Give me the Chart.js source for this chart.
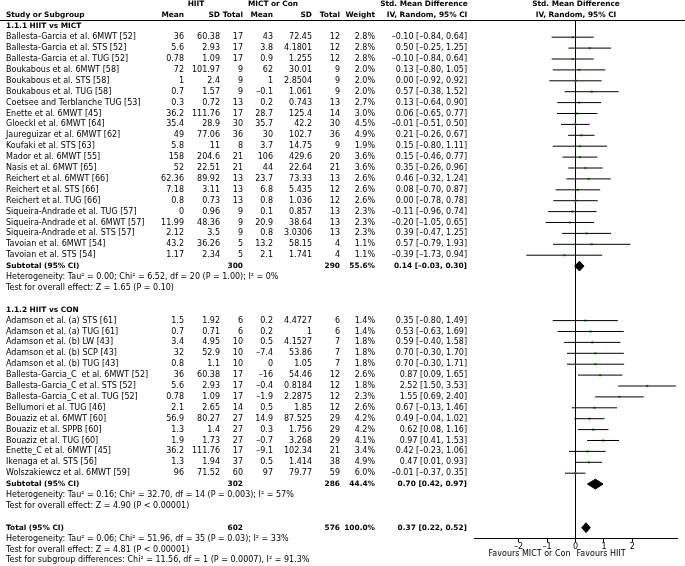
<!DOCTYPE html>
<html>
<head>
<meta charset="utf-8">
<script src="https://cdn.jsdelivr.net/npm/chart.js@4.4.1/dist/chart.umd.min.js"></script>
<style>
    body { margin: 0; background: #fff; }
    canvas { display: block; }
</style>
</head>
<body>
<canvas id="forestChart" width="685" height="566"></canvas>
<script>
// Estudios (grupo 1: 21, grupo 2: 15)
const groupTitles = ['1.1.1 HIIT vs MICT', '1.1.2 HIIT vs CON'];
const groupSizes = [21, 15];
const studies = [
    'Ballesta-Garcia et al. 6MWT [52]', 'Ballesta-Garcia et al. STS [52]', 'Ballesta-Garcia et al. TUG [52]',
    'Boukabous et al. 6MWT [58]', 'Boukabous et al. STS [58]', 'Boukabous et al. TUG [58]',
    'Coetsee and Terblanche TUG [53]', 'Enette et al. 6MWT [45]', 'Gloeckl et al. 6MWT [64]',
    'Jaureguizar et al. 6MWT [62]', 'Koufaki et al. STS [63]', 'Mador et al. 6MWT [55]',
    'Nasis et al. 6MWT [65]', 'Reichert et al. 6MWT [66]', 'Reichert et al. STS [66]',
    'Reichert et al. TUG [66]', 'Siqueira-Andrade et al. TUG [57]', 'Siqueira-Andrade et al. 6MWT [57]',
    'Siqueira-Andrade et al. STS [57]', 'Tavoian et al. 6MWT [54]', 'Tavoian et al. STS [54]',
    'Adamson et al. (a) STS [61]', 'Adamson et al. (a) TUG [61]', 'Adamson et al. (b) LW [43]',
    'Adamson et al. (b) SCP [43]', 'Adamson et al. (b) TUG [43]', 'Ballesta-Garcia_C  et al. 6MWT [52]',
    'Ballesta-Garcia_C et al. STS [52]', 'Ballesta-Garcia_C et al. TUG [52]', 'Bellumori et al. TUG [46]',
    'Bouaziz et al. 6MWT [60]', 'Bouaziz et al. SPPB [60]', 'Bouaziz et al. TUG [60]',
    'Enette_C et al. 6MWT [45]', 'Ikenaga et al. STS [56]', 'Wolszakiewcz et al. 6MWT [59]'
];
const hiitMean = [36, 5.6, 0.78, 72, 1, 0.7, 0.3, 36.2, 35.4, 49, 5.8, 158, 52, 62.36, 7.18, 0.8, 0, 11.99, 2.12, 43.2, 1.17,
    1.5, 0.7, 3.4, 32, 0.8, 36, 5.6, 0.78, 2.1, 56.9, 1.3, 1.9, 36.2, 1.3, 96];
const hiitSd = [60.38, 2.93, 1.09, 101.97, 2.4, 1.57, 0.72, 111.76, 28.9, 77.06, 11, 204.6, 22.51, 89.92, 3.11, 0.73, 0.96, 48.36, 3.5, 36.26, 2.34,
    1.92, 0.71, 4.95, 52.9, 1.1, 60.38, 2.93, 1.09, 2.65, 80.27, 1.4, 1.73, 111.76, 1.94, 71.52];
const hiitTotal = [17, 17, 17, 9, 9, 9, 13, 17, 30, 36, 8, 21, 21, 13, 13, 13, 9, 9, 9, 5, 5,
    6, 6, 10, 10, 10, 17, 17, 17, 14, 27, 27, 27, 17, 37, 60];
const conMean = [43, 3.8, 0.9, 62, 1, -0.1, 0.2, 28.7, 35.7, 30, 3.7, 106, 44, 23.7, 6.8, 0.8, 0.1, 20.9, 0.8, 13.2, 2.1,
    0.2, 0.2, 0.5, -7.4, 0, -16, -0.4, -1.9, 0.5, 14.9, 0.3, -0.7, -9.1, 0.5, 97];
const conSd = [72.45, 4.1801, 1.255, 30.01, 2.8504, 1.061, 0.743, 125.4, 42.2, 102.7, 14.75, 429.6, 22.64, 73.33, 5.435, 1.036, 0.857, 38.64, 3.0306, 58.15, 1.741,
    4.4727, 1, 4.1527, 53.86, 1.05, 54.46, 0.8184, 2.2875, 1.85, 87.525, 1.756, 3.268, 102.34, 1.414, 79.77];
const conTotal = [12, 12, 12, 9, 9, 9, 13, 14, 30, 36, 9, 20, 21, 13, 12, 12, 13, 13, 13, 4, 4,
    6, 6, 7, 7, 7, 12, 12, 12, 12, 29, 29, 29, 21, 38, 59];
const weights = [2.8, 2.8, 2.8, 2.0, 2.0, 2.0, 2.7, 3.0, 4.5, 4.9, 1.9, 3.6, 3.6, 2.6, 2.6, 2.6, 2.3, 2.3, 2.3, 1.1, 1.1,
    1.4, 1.4, 1.8, 1.8, 1.8, 2.6, 1.8, 2.3, 2.6, 4.2, 4.2, 4.1, 3.4, 4.9, 6.0];
const smd = [-0.10, 0.50, -0.10, 0.13, 0.00, 0.57, 0.13, 0.06, -0.01, 0.21, 0.15, 0.15, 0.35, 0.46, 0.08, 0.00, -0.11, -0.20, 0.39, 0.57, -0.39,
    0.35, 0.53, 0.59, 0.70, 0.70, 0.87, 2.52, 1.55, 0.67, 0.49, 0.62, 0.97, 0.42, 0.47, -0.01];
const ciLow = [-0.84, -0.25, -0.84, -0.80, -0.92, -0.38, -0.64, -0.65, -0.51, -0.26, -0.80, -0.46, -0.26, -0.32, -0.70, -0.78, -0.96, -1.05, -0.47, -0.79, -1.73,
    -0.80, -0.63, -0.40, -0.30, -0.30, 0.09, 1.50, 0.69, -0.13, -0.04, 0.08, 0.41, -0.23, 0.01, -0.37];
const ciHigh = [0.64, 1.25, 0.64, 1.05, 0.92, 1.52, 0.90, 0.77, 0.50, 0.67, 1.11, 0.77, 0.96, 1.24, 0.87, 0.78, 0.74, 0.65, 1.25, 1.93, 0.94,
    1.49, 1.69, 1.58, 1.70, 1.71, 1.65, 3.53, 2.40, 1.46, 1.02, 1.16, 1.53, 1.06, 0.93, 0.35];

// Subtotales y total
const pooledLabels = ['Subtotal (95% CI)', 'Subtotal (95% CI)', 'Total (95% CI)'];
const pooledHiitTotal = [300, 302, 602];
const pooledConTotal = [290, 286, 576];
const pooledWeight = [55.6, 44.4, 100.0];
const pooledSmd = [0.14, 0.70, 0.37];
const pooledLow = [-0.03, 0.42, 0.22];
const pooledHigh = [0.30, 0.97, 0.52];
const pooledNotes = [
    ['Heterogeneity: Tau² = 0.00; Chi² = 6.52, df = 20 (P = 1.00); I² = 0%', 'Test for overall effect: Z = 1.65 (P = 0.10)'],
    ['Heterogeneity: Tau² = 0.16; Chi² = 32.70, df = 14 (P = 0.003); I² = 57%', 'Test for overall effect: Z = 4.90 (P < 0.00001)'],
    ['Heterogeneity: Tau² = 0.06; Chi² = 51.96, df = 35 (P = 0.03); I² = 33%', 'Test for overall effect: Z = 4.81 (P < 0.00001)',
        'Test for subgroup differences: Chi² = 11.56, df = 1 (P = 0.0007), I² = 91.3%']
];
const xTicks = [-2, -1, 0, 1, 2];

// Línea (fila) de cada elemento
const studyRows = [], groupRows = [], pooledRows = [], noteRows = [];
let line = 3, k = 0;
groupSizes.forEach((n, g) => {
    groupRows.push(line++);
    for (let i = 0; i < n; i++) studyRows[k++] = line++;
    pooledRows.push(line++);
    noteRows.push(pooledNotes[g].map(() => line++));
    line++;
});
pooledRows.push(line++);
noteRows.push(pooledNotes[2].map(() => line++));

const FONT = 'DejaVu Sans';
const num = v => String(v).replace('-', '–');
const fix = v => v.toFixed(2).replace('-', '–');
const ciText = (e, l, h) => `${fix(e)} [${fix(l)}, ${fix(h)}]`;

const datasets = [];
studies.forEach((s, i) => {
    datasets.push({
        type: 'line', showLine: true,
        data: [{ x: ciLow[i], y: studyRows[i] }, { x: ciHigh[i], y: studyRows[i] }],
        borderColor: '#000', borderWidth: 1, pointRadius: 0
    });
});
datasets.push({
    type: 'scatter',
    data: studies.map((s, i) => ({ x: smd[i], y: studyRows[i] })),
    pointStyle: 'rect', pointRadius: 1.6, backgroundColor: '#2bd02b', borderWidth: 0
});
pooledSmd.forEach((e, i) => {
    const r = pooledRows[i];
    datasets.push({
        type: 'line', showLine: true, fill: 'shape',
        data: [{ x: pooledLow[i], y: r }, { x: e, y: r - 0.45 }, { x: pooledHigh[i], y: r }, { x: e, y: r + 0.45 }, { x: pooledLow[i], y: r }],
        borderColor: '#000', backgroundColor: '#000', borderWidth: 1, pointRadius: 0
    });
});

const tablePlugin = {
    id: 'tabla',
    afterDraw(chart) {
        const ctx = chart.ctx;
        const ys = chart.scales.y, xs = chart.scales.x;
        const py = r => ys.getPixelForValue(r);
        function txt(s, x, y, align, bold) {
            ctx.font = bold ? 'bold 7.4px "' + FONT + '"' : '8px "' + FONT + '"';
            ctx.textAlign = align;
            ctx.fillText(s, x, y);
        }
        ctx.save();
        ctx.fillStyle = '#000';
        ctx.textBaseline = 'middle';

        // Cabecera
        const h1 = py(1), h2 = py(2);
        txt('HIIT', 196, h1, 'center', true);
        txt('MICT or Con', 273, h1, 'center', true);
        txt('Std. Mean Difference', 424, h1, 'center', true);
        txt('Std. Mean Difference', 576, h1, 'center', true);
        txt('Study or Subgroup', 6, h2, 'left', true);
        txt('Mean', 184, h2, 'right', true);
        txt('SD', 220, h2, 'right', true);
        txt('Total', 243, h2, 'right', true);
        txt('Mean', 273, h2, 'right', true);
        txt('SD', 312, h2, 'right', true);
        txt('Total', 340, h2, 'right', true);
        txt('Weight', 375, h2, 'right', true);
        txt('IV, Random, 95% CI', 427, h2, 'center', true);
        txt('IV, Random, 95% CI', 576, h2, 'center', true);
        ctx.strokeStyle = '#000';
        ctx.lineWidth = 1;
        ctx.beginPath();
        ctx.moveTo(0, 20.5);
        ctx.lineTo(685, 20.5);
        ctx.stroke();

        groupTitles.forEach((t, g) => txt(t, 6, py(groupRows[g]), 'left', true));

        studies.forEach((s, i) => {
            const y = py(studyRows[i]);
            txt(s, 6, y, 'left', false);
            txt(num(hiitMean[i]), 184, y, 'right', false);
            txt(num(hiitSd[i]), 220, y, 'right', false);
            txt(num(hiitTotal[i]), 243, y, 'right', false);
            txt(num(conMean[i]), 273, y, 'right', false);
            txt(num(conSd[i]), 312, y, 'right', false);
            txt(num(conTotal[i]), 340, y, 'right', false);
            txt(weights[i].toFixed(1) + '%', 375, y, 'right', false);
            txt(ciText(smd[i], ciLow[i], ciHigh[i]), 467, y, 'right', false);
        });

        pooledLabels.forEach((lab, i) => {
            const y = py(pooledRows[i]);
            txt(lab, 6, y, 'left', true);
            txt(String(pooledHiitTotal[i]), 243, y, 'right', true);
            txt(String(pooledConTotal[i]), 340, y, 'right', true);
            txt(pooledWeight[i].toFixed(1) + '%', 375, y, 'right', true);
            txt(ciText(pooledSmd[i], pooledLow[i], pooledHigh[i]), 467, y, 'right', true);
            pooledNotes[i].forEach((n, j) => txt(n, 6, py(noteRows[i][j]), 'left', false));
        });

        // Leyenda del eje
        const x0 = xs.getPixelForValue(0);
        const yb = chart.chartArea.bottom + 16;
        txt('Favours MICT or Con', x0 - 5, yb, 'right', false);
        txt('Favours HIIT', x0 + 1, yb, 'left', false);
        ctx.restore();
    }
};

new Chart(document.getElementById('forestChart'), {
    type: 'scatter',
    data: { datasets: datasets },
    options: {
        responsive: false,
        animation: false,
        devicePixelRatio: 1,
        events: [],
        layout: { padding: { left: 474, right: 8, top: 20, bottom: 4 } },
        plugins: { legend: { display: false }, tooltip: { enabled: false } },
        scales: {
            x: {
                type: 'linear', min: -3.57, max: 3.57,
                afterBuildTicks: s => { s.ticks = xTicks.map(v => ({ value: v })); },
                afterFit: s => { s.height = 24; },
                border: { display: true, color: '#000', width: 1 },
                grid: {
                    color: c => (c.tick && c.tick.value === 0 ? '#000' : 'rgba(0,0,0,0)'),
                    tickColor: '#000', tickLength: 4, lineWidth: 1
                },
                ticks: {
                    color: '#000', padding: 0, maxRotation: 0, autoSkip: false,
                    font: { family: FONT, size: 8 },
                    callback: v => num(v)
                }
            },
            y: { type: 'linear', reverse: true, min: 2.422, max: 49.945, display: false }
        }
    },
    plugins: [tablePlugin]
});
</script>
</body>
</html>
